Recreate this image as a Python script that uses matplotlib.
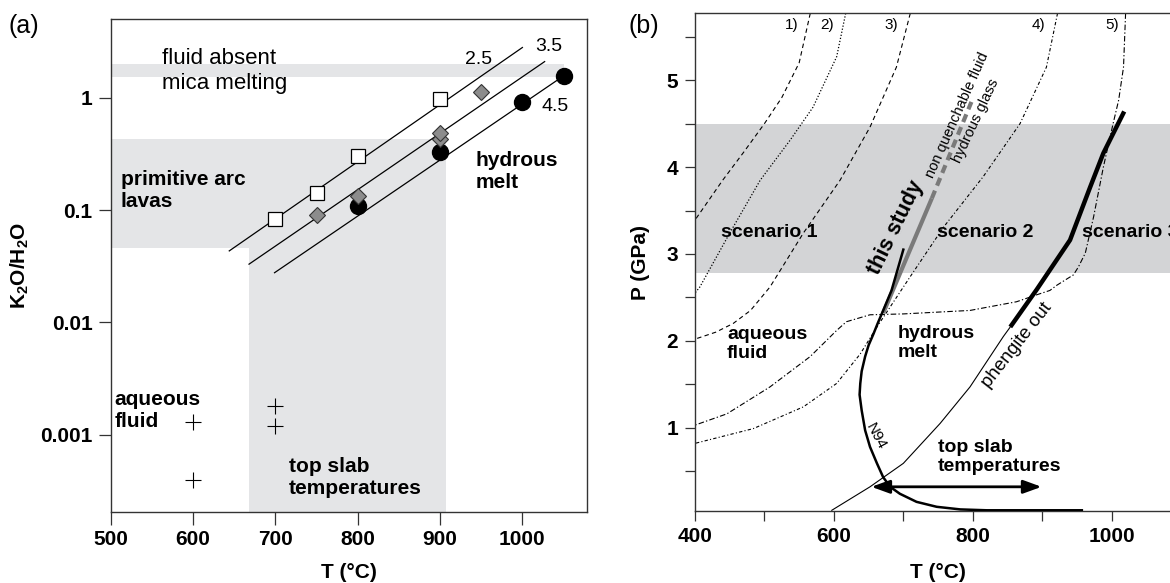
import matplotlib
matplotlib.use('Agg')
import matplotlib.pyplot as plt
from matplotlib.ticker import NullLocator

plt.rcParams['font.family'] = ['Liberation Sans', 'DejaVu Sans']
plt.rcParams['mathtext.fontset'] = 'custom'
plt.rcParams['mathtext.rm'] = 'Liberation Sans'
plt.rcParams['mathtext.bf'] = 'Liberation Sans:bold'

# ---- panel (a): K2O/H2O vs T ----
sq_T = [700, 750, 800, 900]
sq_r = [0.083, 0.141, 0.30, 0.97]
dia_T = [750, 800, 900, 900, 950]
dia_r = [0.090, 0.132, 0.43, 0.48, 1.11]
cir_T = [800, 900, 1000, 1050]
cir_r = [0.109, 0.327, 0.91, 1.56]
crs_T = [600, 600, 700, 700]
crs_r = [0.0013, 0.0004, 0.0018, 0.0012]

fit_names = ['2.5', '3.5', '4.5']
fit_T = [[644, 1000], [668, 1027], [699, 1050]]
fit_r = [[0.0433, 2.79], [0.033, 2.09], [0.0277, 1.56]]

# ---- panel (b): P vs T ----
c1_T = [566, 550, 525, 500, 470, 440, 400]
c1_P = [5.77, 5.2, 4.8, 4.5, 4.17, 3.85, 3.39]
c2_T = [617, 604, 570, 537, 494, 450, 407, 400]
c2_P = [5.77, 5.27, 4.69, 4.31, 3.85, 3.24, 2.62, 2.55]
c3_T = [710, 690, 652, 609, 556, 508, 480, 455, 430, 400]
c3_P = [5.77, 5.15, 4.46, 3.85, 3.24, 2.62, 2.35, 2.2, 2.1, 2.02]
c4_T = [922, 906, 868, 815, 758, 710, 681, 662, 638, 604, 556, 484, 400]
c4_P = [5.77, 5.15, 4.5, 3.89, 3.31, 2.74, 2.39, 2.16, 1.85, 1.51, 1.24, 0.99, 0.82]
c5_T = [1020, 1017, 1010, 1002, 988, 974, 962, 952, 945, 921, 911, 892, 863,
        796, 700, 652, 618, 604, 566, 508, 446, 400]
c5_P = [5.77, 5.15, 4.77, 4.5, 4.0, 3.43, 3.01, 2.85, 2.76, 2.64, 2.58, 2.53, 2.45,
        2.35, 2.31, 2.30, 2.22, 2.12, 1.82, 1.47, 1.16, 1.03]

n94_T = [700, 683, 671, 663, 657, 650, 645, 640, 638, 637, 640, 645, 652, 662, 671,
         681, 695, 719, 748, 782, 820, 957]
n94_P = [3.05, 2.58, 2.35, 2.20, 2.08, 1.95, 1.82, 1.65, 1.51, 1.38, 1.20, 0.97, 0.78,
         0.59, 0.43, 0.32, 0.24, 0.147, 0.09, 0.06, 0.05, 0.05]

study_T = [671, 741]
study_P = [2.32, 3.64]
study_ext_T = [741, 798]
study_ext_P = [3.64, 4.75]

phe_T = [597, 652, 700, 753, 796, 844, 854]
phe_P = [0.05, 0.32, 0.59, 1.05, 1.47, 2.05, 2.16]
phe_thick_T = [854, 892, 940, 969, 988, 1018]
phe_thick_P = [2.16, 2.59, 3.16, 3.77, 4.16, 4.64]

curve_names = ['1)', '2)', '3)', '4)', '5)']
curve_name_T = [539, 590, 682, 894, 1000]

fig = plt.figure(figsize=(11.7, 5.83), dpi=100)

# ================= (a) =================
ax = fig.add_axes([0.0946, 0.1213, 0.4068, 0.8461])
ax.set_yscale('log')
ax.set_xlim(500, 1078)
ax.set_ylim(2.05e-4, 5.0)

band = '#e4e5e7'
ax.fill_between([500, 1051], 1.54, 2.0, color=band, lw=0, zorder=0)
ax.fill_between([500, 907], 0.046, 0.43, color=band, lw=0, zorder=0)
ax.fill_between([668, 907], 2.05e-4, 0.046, color=band, lw=0, zorder=0)

for T, r in zip(fit_T, fit_r):
    ax.plot(T, r, color='black', lw=0.9, zorder=2)

ax.plot(cir_T, cir_r, 'o', ms=11.5, mfc='black', mec='black', zorder=3)
ax.plot(sq_T, sq_r, 's', ms=10.5, mfc='white', mec='black', mew=0.9, zorder=3)
ax.plot(dia_T, dia_r, 'D', ms=8, mfc='#8c8c8c', mec='#333333', mew=0.8, zorder=4)
ax.plot(crs_T, crs_r, '+', ms=11.5, color='black', mew=0.8, zorder=3)

ax.text(947, 2.16, '2.5', fontsize=14, ha='center', va='center')
ax.text(1015, 2.84, '3.5', fontsize=14, ha='left', va='center')
ax.text(1023, 0.83, '4.5', fontsize=14, ha='left', va='center')

ax.text(562, 1.73, 'fluid absent\nmica melting', fontsize=16, ha='left', va='center',
        linespacing=1.25)
bold_a = dict(fontsize=15, fontweight='bold', ha='left', va='center', linespacing=1.2)
ax.text(512, 0.148, 'primitive arc\nlavas', **bold_a)
ax.text(943, 0.219, 'hydrous\nmelt', **bold_a)
ax.text(505, 0.00164, 'aqueous\nfluid', **bold_a)
ax.text(716, 0.000414, 'top slab\ntemperatures', **bold_a)

ax.set_xticks([500, 600, 700, 800, 900, 1000],
              ['500', '600', '700', '800', '900', '1000'], fontweight='bold', fontsize=15)
ax.set_yticks([1, 0.1, 0.01, 0.001], ['1', '0.1', '0.01', '0.001'],
              fontweight='bold', fontsize=15)
ax.yaxis.set_minor_locator(NullLocator())
ax.tick_params(direction='out', length=9, width=0.9, color='#333333', pad=4)
for s in ax.spines.values():
    s.set_color('#333333')
    s.set_linewidth(1.0)

ax.set_xlabel('T (°C)', fontsize=15, fontweight='bold')
ax.xaxis.set_label_coords(0.5, -0.103)
ax.set_ylabel(r'$\mathbf{K_2O/H_2O}$', fontsize=15)
ax.yaxis.set_label_coords(-0.167, 0.5)
fig.text(0.007, 0.955, '(a)', fontsize=18, ha='left', va='center')

# ================= (b) =================
bx = fig.add_axes([0.594, 0.124, 0.4749, 0.8532])
bx.set_xlim(400, 1200)
bx.set_ylim(0.045, 5.77)
bx.spines['right'].set_visible(False)

bx.axhspan(2.78, 4.5, color='#d3d4d6', lw=0, zorder=0)

bx.plot(c1_T, c1_P, color='black', lw=0.8, ls=(0, (4, 3)), zorder=2)
bx.plot(c2_T, c2_P, color='black', lw=0.9, ls=(0, (1, 1.5)), zorder=2)
bx.plot(c3_T, c3_P, color='black', lw=0.8, ls=(0, (4, 3)), zorder=2)
bx.plot(c4_T, c4_P, color='black', lw=0.8, ls=(0, (3, 2, 1, 2)), zorder=2)
bx.plot(c5_T, c5_P, color='black', lw=0.8, ls=(0, (5, 2, 1.2, 2)), zorder=2)

for name, T in zip(curve_names, curve_name_T):
    bx.text(T, 5.64, name, fontsize=11, ha='center', va='center')

bx.plot(phe_T, phe_P, color='black', lw=0.8, zorder=3)
bx.plot(phe_thick_T, phe_thick_P, color='black', lw=3.2, solid_capstyle='butt', zorder=3)
bx.plot(study_T, study_P, color='#7a7a7a', lw=3.0, solid_capstyle='butt', zorder=3)
bx.plot(study_ext_T, study_ext_P, color='#7a7a7a', lw=3.0, ls=(0, (2, 1.3)), zorder=3)
bx.plot(n94_T, n94_P, color='black', lw=1.8, zorder=4)

bx.annotate('', xy=(654, 0.32), xytext=(899, 0.32),
            arrowprops=dict(arrowstyle='<|-|>,head_length=1.1,head_width=0.4',
                            color='black', lw=2, shrinkA=0, shrinkB=0), zorder=5)

bold_b = dict(fontsize=14, fontweight='bold', ha='left', va='center', linespacing=1.15)
bx.text(437, 3.25, 'scenario 1', **bold_b)
bx.text(748, 3.25, 'scenario 2', **bold_b)
bx.text(957, 3.25, 'scenario 3', **bold_b)
bx.text(446, 1.965, 'aqueous\nfluid', **bold_b)
bx.text(692, 1.97, 'hydrous\nmelt', **bold_b)
bx.text(750, 0.665, 'top slab\ntemperatures', **bold_b)

bx.text(689, 3.30, 'this study', fontsize=15.5, fontweight='bold', rotation=64,
        rotation_mode='anchor', ha='center', va='center')
bx.text(777, 4.60, 'non quenchable fluid', fontsize=10.5, rotation=66,
        rotation_mode='anchor', ha='center', va='center')
bx.text(804, 4.53, 'hydrous glass', fontsize=10.5, rotation=65,
        rotation_mode='anchor', ha='center', va='center')
bx.text(863, 1.95, 'phengite out', fontsize=13.5, rotation=52,
        rotation_mode='anchor', ha='center', va='center')
bx.text(661, 0.90, 'N94', fontsize=11, rotation=-62,
        rotation_mode='anchor', ha='center', va='center')

bx.set_xticks(range(400, 1200, 100),
              ['400', '', '600', '', '800', '', '1000', ''], fontweight='bold', fontsize=15)
bx.set_yticks([0.5, 1, 1.5, 2, 2.5, 3, 3.5, 4, 4.5, 5, 5.5],
              ['', '1', '', '2', '', '3', '', '4', '', '5', ''],
              fontweight='bold', fontsize=15)
bx.tick_params(direction='out', length=7, width=0.9, color='#333333', pad=5)
for s in bx.spines.values():
    s.set_color('#333333')
    s.set_linewidth(1.0)

bx.set_xlabel('T (°C)', fontsize=15, fontweight='bold')
bx.xaxis.set_label_coords(0.438, -0.105)
bx.set_ylabel('P (GPa)', fontsize=15, fontweight='bold')
bx.yaxis.set_label_coords(-0.081, 0.5)
fig.text(0.537, 0.955, '(b)', fontsize=18, ha='left', va='center')

fig.savefig('out.png', dpi=100)
